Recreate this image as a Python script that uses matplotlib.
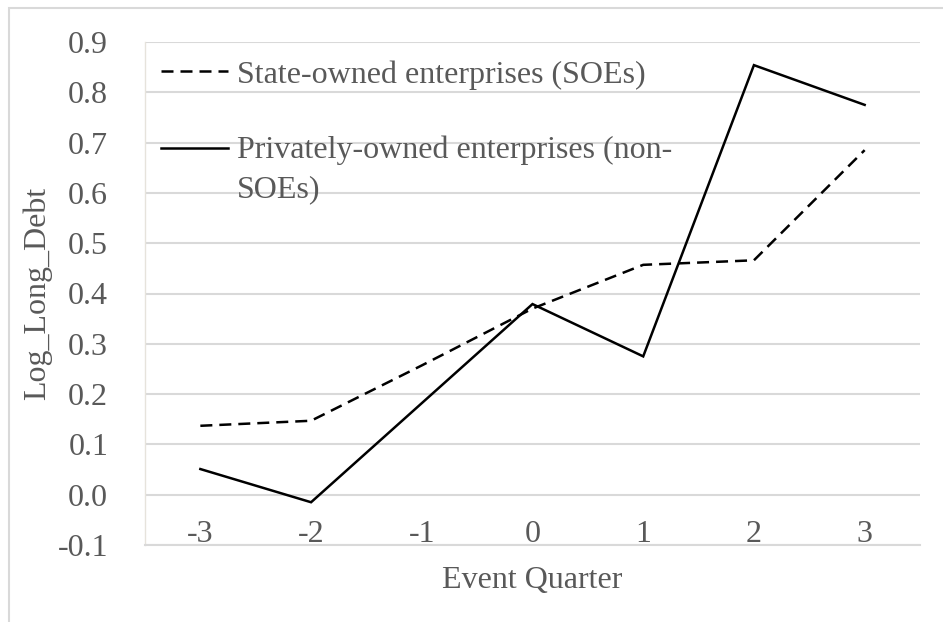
import numpy as np
import matplotlib.pyplot as plt
from matplotlib.legend_handler import HandlerLine2D
from matplotlib.patches import Rectangle

# data
quarters = [-3, -2, -1, 0, 1, 2, 3]
soe = [0.137, 0.147, 0.257, 0.370, 0.457, 0.466, 0.685]
non_soe = [0.051, -0.015, 0.182, 0.379, 0.275, 0.854, 0.775]
labels = ['State-owned enterprises (SOEs)',
          'Privately-owned enterprises (non-\nSOEs)']
yticks = np.arange(-0.1, 0.91, 0.1)

TXT = '#595959'
GRID = '#d9d9d9'
FS = 23

plt.rcParams['font.family'] = ['Liberation Serif', 'DejaVu Serif']


# keeps the legend line level with the first line of a wrapped label
class FirstLineHandler(HandlerLine2D):
    def __init__(self, shift=0.0, **kw):
        super().__init__(**kw)
        self.shift = shift

    def create_artists(self, legend, orig_handle, xdescent, ydescent,
                       width, height, fontsize, trans):
        arts = super().create_artists(legend, orig_handle, xdescent, ydescent,
                                      width, height, fontsize, trans)
        for a in arts:
            a.set_ydata(np.asarray(a.get_ydata()) + self.shift)
        return arts


fig = plt.figure(figsize=(9.43, 6.22), dpi=100)
ax = fig.add_axes([145 / 943, 1 - 545 / 622, 775 / 943, 503 / 622])

# outer chart border (cut off at right and bottom in the reference)
fig.patches.append(Rectangle((9 / 943, -0.1), 1.1, 1 - 8 / 622 + 0.1,
                             transform=fig.transFigure, fill=False,
                             edgecolor=GRID, lw=1.5))

l1, = ax.plot(quarters, soe, color='black', lw=1.8,
              linestyle=(0, (4.8, 2.8)), solid_joinstyle='miter')
l2, = ax.plot(quarters, non_soe, color='black', lw=1.8,
              solid_joinstyle='miter')

ax.set_xlim(-3.5, 3.5)
ax.set_ylim(-0.1, 0.9)
ax.set_yticks(yticks)
ax.set_yticklabels([f'{v:.1f}' for v in yticks])
ax.set_xticks(quarters)
ax.set_xticklabels([str(q) for q in quarters])
ax.yaxis.grid(True, color=GRID, lw=1.5)
ax.set_axisbelow(True)

for s in ['top', 'right']:
    ax.spines[s].set_visible(False)
ax.spines['left'].set_color('#e6e3dc')
ax.spines['left'].set_linewidth(1.0)
ax.spines['bottom'].set_color(GRID)
ax.spines['bottom'].set_linewidth(1.5)

ax.tick_params(axis='y', length=0, pad=26.5, labelsize=FS, labelcolor=TXT)
ax.tick_params(axis='x', length=0, pad=-2.2, labelsize=FS, labelcolor=TXT)
for t in ax.get_xticklabels():
    t.set_va('baseline')

ax.set_xlabel('Event Quarter', fontsize=FS, color=TXT)
ax.xaxis.set_label_coords(0.5, -0.07)
ax.xaxis.label.set_va('center')
ax.set_ylabel('Log_Long_Debt', fontsize=FS, color=TXT)
ax.yaxis.set_label_coords(-0.139, 0.5)
ax.yaxis.label.set_va('center')

leg = ax.legend([l1, l2], labels, loc='upper left',
                bbox_to_anchor=(0.02, 0.964), frameon=False,
                fontsize=FS, labelcolor=TXT, handlelength=2.1,
                handletextpad=0.3, labelspacing=1.43, borderpad=0,
                borderaxespad=0,
                handler_map={l2: FirstLineHandler(shift=15.5)})
leg.get_texts()[1].set_linespacing(1.48)

fig.savefig('out.png', dpi=100)
